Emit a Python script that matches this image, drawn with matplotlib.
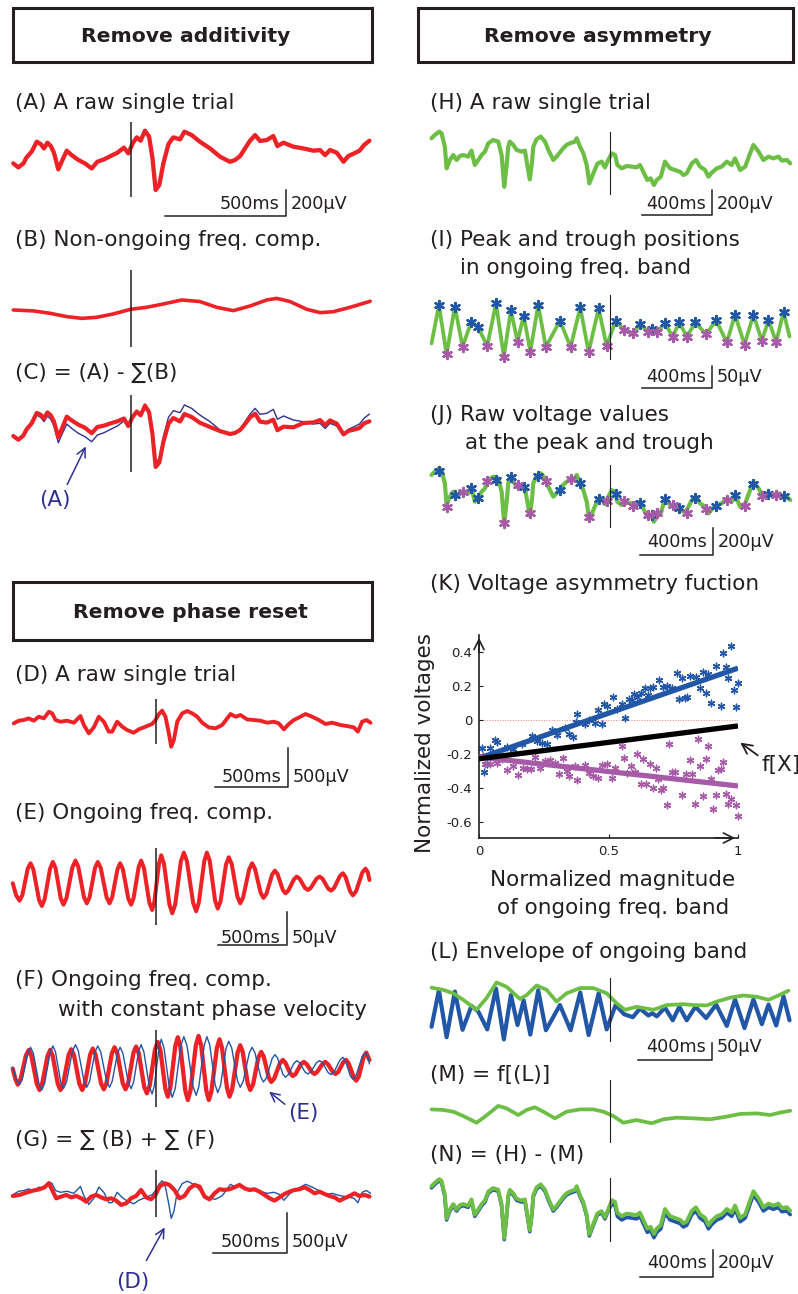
import matplotlib.pyplot as plt
from matplotlib.patches import Rectangle
import numpy as np

plt.rcParams['font.family'] = 'DejaVu Sans'
plt.rcParams['axes.unicode_minus'] = False

W, H = 798, 1294
RED = '#ec2227'
GREEN = '#6dbe45'
BLUE = '#2256a6'
NAVY = '#2e3192'
PURPLE = '#a65aa8'
INK = '#231f20'

# (A) raw single trial, ms / uV
t_a = [-485, -464, -443, -430, -409, -388, -372, -358, -344, -330,
       -317, -299, -282, -264, -244, -216, -189, -161, -138, -110,
       -83, -55, -28, -10, 8, 25, 41, 59, 76, 90,
       103, 118, 135, 156, 176, 204, 222, 252, 286, 328,
       369, 410, 431, 452, 472, 493, 514, 534, 562, 589,
       606, 631, 672, 713, 755, 782, 803, 823, 851, 879,
       899, 923, 945, 964, 986]
uv_a = [-50, -80, -50, -5, 38, 112, 95, 62, 105, 80,
        30, -95, -25, 45, 12, -25, -50, -88, -38, -20,
        5, 30, 68, 25, 100, 145, 120, 195, 150, -12,
        -250, -212, -50, 95, 145, 130, 188, 162, 112, 62,
        0, -38, -25, 5, 62, 120, 162, 118, 125, 155,
        80, 105, 75, 62, 45, 50, 12, 50, 30, -38,
        5, 25, 45, 88, 120]
# (C) = (A) - sum(B), same sample times as (A)
uv_c = [-45, -73, -41, 5, 50, 128, 115, 86, 132, 110,
        65, -55, 20, 100, 72, 40, 17, -24, 22, 33,
        50, 65, 86, 30, 98, 139, 110, 182, 133, -34,
        -277, -244, -90, 47, 90, 64, 120, 97, 54, 22,
        -8, -30, -22, 0, 44, 95, 122, 63, 55, 77,
        -2, 25, 20, 52, 57, 75, 36, 72, 48, -33,
        -7, 3, 15, 50, 65]
# (B) non-ongoing component
t_b = [-485, -402, -333, -264, -202, -140, -72, 0, 66, 135, 211, 286,
       355, 424, 493, 562, 603, 658, 727, 782, 837, 906, 989]
uv_b = [-5, -12, -30, -55, -68, -60, -35, 0, 15, 40, 70, 58,
        15, -10, 25, 70, 82, 58, 0, -25, -18, 15, 60]

# (D) raw single trial
t_d = [-965, -931, -897, -863, -829, -795, -760, -726, -704, -681,
       -647, -602, -556, -511, -488, -454, -420, -386, -352, -318,
       -295, -261, -227, -193, -148, -114, -68, -23, 0, 23,
       45, 68, 91, 107, 125, 148, 182, 216, 250, 284,
       318, 363, 409, 454, 511, 545, 579, 624, 670, 715,
       760, 806, 840, 874, 908, 942, 987, 1022, 1067, 1112,
       1158, 1203, 1260, 1305, 1351, 1378, 1407, 1437, 1464]
uv_d = [-22, 13, 22, 43, 13, 65, 43, 130, 109, 22,
        0, 13, -13, 74, -43, -152, -74, 65, 0, -130,
        -130, 0, -65, -109, -144, -100, -65, -30, 22, 100,
        144, 65, -152, -326, -239, 0, 109, 139, 109, 65,
        -13, -74, -87, -43, 100, 65, 87, 30, 22, 13,
        -13, 0, -22, -100, -30, 22, 65, 100, 65, 22,
        -30, -13, -43, -57, -74, -130, 0, 22, -13]
# (E) ongoing frequency component
t_e = [-972, -949, -926, -907, -870, -851, -832, -793, -774, -755,
       -718, -699, -681, -645, -627, -606, -566, -545, -526, -487,
       -468, -449, -412, -393, -373, -333, -313, -295, -259, -241,
       -222, -185, -166, -149, -115, -98, -79, -42, -23, -8,
       24, 39, 58, 95, 114, 134, 173, 193, 214, 256,
       277, 295, 332, 350, 369, 406, 424, 443, 480, 499,
       519, 558, 577, 597, 638, 658, 677, 716, 735, 755,
       794, 813, 831, 867, 885, 904, 943, 962, 981, 1018,
       1037, 1057, 1097, 1117, 1137, 1176, 1196, 1216, 1256, 1276,
       1293, 1327, 1344, 1366, 1408, 1430, 1445, 1457]
uv_e = [0, -18, -26, -18, 22, 30, 21, -25, -34, -24,
        22, 32, 23, -23, -32, -22, 24, 34, 25, -21,
        -30, -21, 23, 32, 23, -21, -30, -21, 21, 30,
        21, -23, -32, -22, 24, 34, 23, -29, -40, -28,
        30, 42, 29, -32, -45, -32, 33, 46, 33, -29,
        -42, -29, 33, 46, 34, -26, -38, -27, 28, 39,
        29, -20, -30, -21, 21, 30, 22, -14, -22, -16,
        13, 19, 14, -10, -15, -11, 6, 10, 7, -7,
        -10, -7, 7, 10, 7, -8, -11, -7, 11, 15,
        10, -13, -18, -12, 16, 22, 17, 5]
# (F) ongoing component with constant phase velocity
t_f = [-972, -955, -938, -919, -882, -863, -845, -808, -790, -772,
       -735, -717, -700, -665, -647, -629, -592, -574, -555, -518,
       -499, -481, -445, -427, -408, -371, -352, -334, -297, -279,
       -260, -223, -204, -186, -150, -132, -114, -77, -59, -40,
       -3, 16, 33, 67, 84, 101, 135, 152, 169, 203,
       220, 238, 275, 293, 311, 346, 363, 381, 418, 436,
       453, 487, 504, 522, 559, 577, 594, 628, 645, 664,
       701, 720, 737, 771, 788, 808, 847, 867, 884, 918,
       935, 954, 991, 1010, 1028, 1065, 1083, 1101, 1137, 1155,
       1173, 1208, 1226, 1244, 1280, 1298, 1315, 1350, 1367, 1384,
       1418, 1435, 1457]
uv_f = [-2, -17, -26, -18, 18, 26, 17, -25, -34, -25,
        17, 26, 17, -25, -34, -25, 18, 27, 18, -25,
        -34, -25, 19, 28, 19, -24, -33, -24, 21, 30,
        21, -24, -33, -24, 22, 31, 21, -29, -39, -28,
        27, 38, 26, -32, -44, -31, 32, 45, 31, -35,
        -49, -35, 33, 47, 33, -35, -49, -36, 29, 42,
        29, -31, -44, -33, 22, 33, 23, -24, -34, -26,
        15, 23, 16, -15, -22, -17, 6, 11, 7, -9,
        -13, -10, 5, 8, 5, -7, -10, -7, 5, 8,
        5, -7, -10, -7, 8, 11, 6, -15, -20, -14,
        16, 22, 11]
# (G) = sum(B) + sum(F)
t_g = [-972, -926, -881, -835, -790, -756, -726, -704, -676, -642,
       -608, -574, -540, -506, -472, -438, -404, -370, -336, -302,
       -268, -234, -200, -166, -132, -98, -64, -30, 0, 27,
       61, 95, 129, 163, 197, 232, 266, 300, 334, 368,
       402, 436, 470, 504, 538, 572, 606, 640, 674, 708,
       743, 777, 811, 845, 878, 913, 947, 981, 1015, 1049,
       1083, 1117, 1151, 1185, 1219, 1253, 1287, 1321, 1355, 1389,
       1423, 1457]
uv_g = [-46, -33, -4, 21, 38, 63, 113, 29, -75, -54,
        -33, -63, -46, -75, -117, -54, -33, -63, -88, -75,
        -104, -158, -138, -75, -46, 29, -63, -88, -33, 71,
        113, 92, 29, -75, -46, 50, 92, 71, -54, -88,
        -13, 38, 29, 38, 63, 92, 50, 29, 38, 8,
        -33, -75, -104, -63, -21, 8, 29, 38, 63, 29,
        -13, 8, -21, -46, -63, -104, -75, -46, -13, -46,
        -33, -54]

# (H) raw single trial, also (J) and blue in (N)
t_h = [-1019, -1000, -975, -962, -943, -933, -914, -895, -876, -857,
       -838, -810, -791, -772, -752, -733, -714, -695, -667, -638,
       -619, -604, -591, -581, -572, -552, -533, -505, -486, -458,
       -446, -438, -419, -396, -371, -352, -324, -305, -286, -267,
       -248, -229, -200, -190, -171, -152, -133, -118, -95, -72,
       -48, -29, -10, 10, 29, 42, 67, 95, 124, 152,
       171, 190, 213, 232, 251, 267, 290, 314, 343, 371,
       400, 419, 438, 467, 491, 514, 543, 562, 581, 610,
       638, 667, 695, 714, 743, 772, 800, 819, 848, 876,
       905, 933, 962, 981, 1010, 1029]
uv_h = [174, 200, 227, 214, 107, -67, 0, 40, 0, 32,
        40, 27, 75, -40, 0, 40, 67, 134, 160, 147,
        40, -214, -53, 107, 147, 120, 80, 67, 75, -155,
        -27, 107, 166, 187, 147, 80, 0, 27, 60, 94,
        120, 134, 147, 174, 107, 53, -40, -187, -107, -30,
        -13, -59, 0, 53, 40, -40, -67, -48, -53, -59,
        -40, -94, -160, -147, -200, -160, -134, -13, -67, -80,
        -94, -120, -107, -27, 0, -53, -80, -134, -101, -67,
        -53, -13, -40, 13, -80, -53, 53, 120, 67, 0,
        27, 13, 27, -5, 0, -27]
# (N) = (H) - (M)
uv_n = [186, 212, 239, 226, 119, -55, 12, 52, 12, 44,
        52, 39, 87, -28, 12, 52, 79, 146, 172, 159,
        52, -202, -41, 119, 159, 132, 92, 79, 87, -143,
        -15, 119, 178, 199, 159, 92, 12, 39, 72, 106,
        132, 146, 159, 186, 119, 65, -28, -175, -95, -18,
        -1, -47, 12, 81, 68, -12, -39, -20, -25, -31,
        -12, -66, -132, -119, -172, -132, -106, 15, -39, -52,
        -66, -92, -79, 1, 28, -25, -52, -106, -73, -39,
        -25, 15, -12, 41, -52, -25, 81, 148, 95, 28,
        55, 41, 55, 23, 28, 1]
# (I) ongoing band, also blue in (L)
t_i = [-1019, -977, -933, -886, -842, -791, -752, -701, -651, -606,
       -566, -528, -493, -455, -410, -366, -286, -225, -170, -122,
       -65, -19, 32, 80, 130, 171, 219, 242, 267, 314,
       358, 396, 438, 488, 549, 606, 667, 714, 768, 819,
       867, 905, 949, 991, 1025]
uv_i = [-31, 53, -55, 50, -38, 17, 4, -37, 57, -60,
        42, -27, 30, -49, 53, -39, 19, -39, 48, -50,
        46, -37, 19, -2, -9, 11, -5, 0, -7, 13,
        -16, 15, -16, 15, -11, 20, -29, 32, -34, 32,
        -25, 20, -28, 39, -16]
peaks_i = [1, 3, 5, 6, 8, 10, 12, 14, 16, 18, 20, 22, 25, 27, 29, 31, 33,
           35, 37, 39, 41, 43]
troughs_i = [2, 4, 7, 9, 11, 13, 15, 17, 19, 21, 23, 24, 26, 28, 30, 32,
             34, 36, 38, 40, 42]
# (J) raw voltage at those peaks / troughs
j_peak_uv = [208, 13, 72, -8, 134, 155, 80, 165, 55, 107, -20, 21, -50,
             -150, -21, -93, -10, -75, 11, 99, 20, 5]
j_trough_uv = [-85, 35, 125, -208, 93, -134, 125, 142, -160, -35, -35,
               -75, -147, -134, -67, -128, -101, -30, -75, 5, 10]
# (L) envelope
t_l = [-1019, -953, -895, -838, -762, -705, -648, -591, -514, -476,
       -419, -362, -305, -248, -171, -95, -19, 38, 86, 152,
       248, 324, 419, 476, 552, 610, 686, 762, 838, 905, 962, 1019]
uv_l = [59, 54, 46, 31, 8, 35, 71, 61, 33, 42,
        64, 54, 27, 46, 58, 58, 46, 23, 8, 15,
        8, 19, 21, 19, 18, 27, 36, 41, 38, 31, 41, 52]
# (M) = f[(L)]
t_m = [-1019, -953, -895, -838, -800, -762, -714, -638, -591, -524,
       -476, -429, -381, -314, -248, -171, -95, -38, 19, 76,
       152, 238, 305, 381, 476, 572, 667, 743, 838, 914, 972, 1029]
uv_m = [42, 38, 25, -8, -32, -58, -12, 68, 50, 0,
        38, 58, 25, -25, 25, 42, 42, 25, -8, -58,
        -38, -62, -32, -20, -25, -32, -12, 8, 12, 0, 18, 32]

# (K) normalized magnitude vs normalized voltage
kx_peak = [.010, .019, .032, .042, .062, .071, .109, .130, .165, .203,
           .223, .242, .261, .281, .302, .332, .349, .364, .380, .375,
           .409, .426, .448, .461, .473, .484, .493, .516, .532, .553,
           .564, .580, .589, .598, .609, .624, .641, .651, .660, .671,
           .695, .709, .725, .744, .763, .773, .785, .795, .804, .815,
           .838, .853, .866, .876, .885, .894, .914, .933, .943, .954,
           .963, .973, .986, .992, 1.0]
ky_peak = [-.163, -.304, -.261, -.163, -.120, -.129, -.157, -.173, -.143, -.094,
           -.124, -.133, -.139, -.059, -.088, -.045, -.084, -.100, .033, -.010,
           -.025, -.002, -.016, .059, -.025, .096, .082, .135, .063, .096,
           .010, .122, .116, .151, .135, .159, .190, .147, .186, .194,
           .233, .194, .200, .190, .278, .125, .245, .131, .135, .259,
           .253, .190, .284, .161, .273, .102, .318, .082, .396, .312,
           .249, .435, .175, .076, .216]
kx_trough = [.014, .023, .042, .068, .088, .109, .130, .152, .169, .184,
             .199, .216, .234, .255, .274, .293, .310, .323, .341, .349,
             .371, .380, .409, .426, .441, .461, .473, .495, .512, .527,
             .551, .560, .570, .586, .602, .611, .624, .634, .644, .660,
             .671, .683, .692, .701, .712, .724, .734, .745, .758, .784,
             .799, .815, .824, .835, .845, .853, .866, .875, .884, .896,
             .905, .915, .924, .933, .943, .954, .963, .973, .992, 1.0]
ky_trough = [-.212, -.261, -.257, -.251, -.231, -.296, -.271, -.324, -.280, -.290,
             -.290, -.218, -.280, -.241, -.237, -.251, -.320, -.225, -.300, -.329,
             -.271, -.353, -.265, -.310, -.329, -.343, -.265, -.257, -.339, -.284,
             -.153, -.225, -.310, -.271, -.304, -.198, -.378, -.231, -.378, -.261,
             -.402, -.284, -.349, -.414, -.398, -.500, -.143, -.304, -.304, -.443,
             -.316, -.237, -.316, -.492, -.114, -.271, -.447, -.231, -.153, -.349,
             -.525, -.441, -.296, -.290, -.247, -.433, -.496, -.467, -.500, -.565]
# fitted lines: (intercept, slope)
fit_peak = (-0.225, 0.53)
fit_mid = (-0.228, 0.193)
fit_trough = (-0.218, -0.17)

fig = plt.figure(figsize=(W / 100, H / 100), dpi=100)


def panel(x0, x1, y_top, y_bot, x_stim, ms_px, y_zero, uv_px, stim_lw=1.1):
    # axes box in pixels; the stimulus line spans the full box height
    ax = fig.add_axes([x0 / W, 1 - y_bot / H, (x1 - x0) / W, (y_bot - y_top) / H])
    ax.set_xlim((x0 - x_stim) * ms_px, (x1 - x_stim) * ms_px)
    ax.set_ylim((y_zero - y_bot) * uv_px, (y_zero - y_top) * uv_px)
    ax.axis('off')
    ax.axvline(0, color=INK, lw=stim_lw, zorder=5)
    return ax


def trace(ax, t, v, color, lw, z=2):
    ax.plot(t, v, color=color, lw=lw, solid_joinstyle='round',
            solid_capstyle='round', clip_on=False, zorder=z)


# left column
ax = panel(5, 380, 121.7, 196.7, 130.7, 4.13, 156.7, 7.5)
trace(ax, t_a, uv_a, RED, 3.1)
ax = panel(5, 380, 270, 347, 130.7, 4.13, 309.3, 7.5)
trace(ax, t_b, uv_b, RED, 2.6)
ax = panel(5, 380, 395, 472, 130.7, 4.13, 430, 7.5)
trace(ax, t_a, uv_a, NAVY, 1.0, z=1)
trace(ax, t_a, uv_c, RED, 3.0, z=2)
ax = panel(5, 380, 699.3, 744.3, 155.5, 6.81, 721.7, 13.05)
trace(ax, t_d, uv_d, RED, 2.8)
ax = panel(5, 380, 848.3, 925, 155.5, 6.81, 883.3, 1.5)
trace(ax, t_e, uv_e, RED, 2.9)
ax = panel(5, 380, 1030, 1106.7, 155.5, 6.81, 1067.3, 1.5)
trace(ax, t_f, uv_f, RED, 3.1, z=1)
trace(ax, t_e, uv_e, BLUE, 1.0, z=2)
ax = panel(5, 380, 1170, 1216.7, 155.5, 6.81, 1192.3, 12.5)
trace(ax, t_d, uv_d, BLUE, 1.0, z=1)
trace(ax, t_g, uv_g, RED, 3.0, z=2)

# right column
ax = panel(425, 798, 131.7, 195, 610, 5.71, 160, 8, 0.8)
trace(ax, t_h, uv_h, GREEN, 3.0)
ax = panel(425, 798, 295, 360, 610, 5.71, 329.3, 2.2, 0.8)
trace(ax, t_i, uv_i, GREEN, 2.7)
ti = np.array(t_i)
vi = np.array(uv_i)
ax.scatter(ti[peaks_i], vi[peaks_i], marker=(6, 2, 0), s=42, color=BLUE,
           linewidths=1.7, zorder=4, clip_on=False)
ax.scatter(ti[troughs_i], vi[troughs_i], marker=(6, 2, 0), s=42, color=PURPLE,
           linewidths=1.7, zorder=4, clip_on=False)
ax = panel(425, 798, 465, 528, 610, 5.71, 496.7, 8, 0.8)
trace(ax, t_h, uv_h, GREEN, 3.0)
ax.scatter(ti[peaks_i], j_peak_uv, marker=(6, 2, 0), s=42, color=BLUE,
           linewidths=1.7, zorder=4, clip_on=False)
ax.scatter(ti[troughs_i], j_trough_uv, marker=(6, 2, 0), s=42, color=PURPLE,
           linewidths=1.7, zorder=4, clip_on=False)
ax = panel(425, 798, 978, 1042, 610, 5.71, 1013.3, 2.3, 0.8)
trace(ax, t_i, uv_i, BLUE, 3.0, z=1)
trace(ax, t_l, uv_l, GREEN, 2.7, z=2)
ax = panel(425, 798, 1080, 1143.3, 610, 5.71, 1115, 7.5, 0.8)
trace(ax, t_m, uv_m, GREEN, 2.7)
ax = panel(425, 798, 1178, 1242, 610, 5.71, 1211, 7.5, 0.8)
trace(ax, t_h, uv_h, BLUE, 2.6, z=1)
trace(ax, t_h, uv_n, GREEN, 2.8, z=2)

# (K) scatter panel
axk = fig.add_axes([479 / W, 1 - 838 / H, (738 - 479) / W, (838 - 635) / H])
axk.set_xlim(0, 1)
axk.set_ylim(-0.694, 0.5)
for s in ['top', 'right']:
    axk.spines[s].set_visible(False)
for s in ['left', 'bottom']:
    axk.spines[s].set_linewidth(1.2)
    axk.spines[s].set_color(INK)
axk.set_xticks([0, 0.5, 1])
axk.set_xticklabels(['0', '0.5', '1'])
axk.set_yticks([-0.6, -0.4, -0.2, 0, 0.2, 0.4])
axk.set_yticklabels(['-0.6', '-0.4', '-0.2', '0', '0.2', '0.4'])
axk.tick_params(direction='in', length=3, labelsize=9.5, colors=INK, pad=5)
axk.axhline(0, color='#f08080', ls=':', lw=0.7, zorder=1)
axk.scatter(kx_peak, ky_peak, marker=(6, 2, 0), s=22, color=BLUE,
            linewidths=1.0, zorder=2, clip_on=False)
axk.scatter(kx_trough, ky_trough, marker=(6, 2, 0), s=22, color=PURPLE,
            linewidths=1.0, zorder=2, clip_on=False)
xf = np.array([0.0, 1.0])
axk.plot(xf, fit_peak[0] + fit_peak[1] * xf, color=BLUE, lw=3.8,
         solid_capstyle='butt', zorder=3)
axk.plot(xf, fit_trough[0] + fit_trough[1] * xf, color=PURPLE, lw=3.8,
         solid_capstyle='butt', zorder=3)
axk.plot(xf, fit_mid[0] + fit_mid[1] * xf, color='black', lw=3.8,
         solid_capstyle='butt', zorder=4)
axk.annotate('', xy=(0, 1.0), xytext=(0, 0.9), xycoords='axes fraction',
             arrowprops=dict(arrowstyle='->', lw=1.2, color=INK, mutation_scale=18))
axk.annotate('', xy=(1.0, 0), xytext=(0.9, 0), xycoords='axes fraction',
             arrowprops=dict(arrowstyle='->', lw=1.2, color=INK, mutation_scale=18))

# overlay in pixel coordinates for boxes, titles, scale bars and arrows
ov = fig.add_axes([0, 0, 1, 1], zorder=10)
ov.set_xlim(0, W)
ov.set_ylim(H, 0)
ov.axis('off')
ov.patch.set_alpha(0)

for (bx, by, bw, bh, title, cx) in [(13, 8, 359, 54, 'Remove additivity', 186),
                                    (13, 582, 359, 58, 'Remove phase reset', 190),
                                    (418, 8, 375, 54, 'Remove asymmetry', 598)]:
    ov.add_patch(Rectangle((bx, by), bw, bh, fill=False, lw=2.2, ec=INK))
    ov.text(cx, by + bh / 2 + 2, title, ha='center', va='center',
            fontsize=14.7, fontweight='bold', color=INK)

labels = [(15, 103, '(A) A raw single trial'),
          (15, 240, '(B) Non-ongoing freq. comp.'),
          (15, 373, '(C) = (A) - \u2211(B)'),
          (15, 675, '(D) A raw single trial'),
          (15, 813, '(E) Ongoing freq. comp.'),
          (15, 980, '(F) Ongoing freq. comp.'),
          (58, 1010, 'with constant phase velocity'),
          (15, 1140, '(G) = \u2211 (B) + \u2211 (F)'),
          (430, 103, '(H) A raw single trial'),
          (430, 240, '(I) Peak and trough positions'),
          (460, 268, 'in ongoing freq. band'),
          (430, 415, '(J) Raw voltage values'),
          (465, 443, 'at the peak and trough'),
          (430, 584, '(K) Voltage asymmetry fuction'),
          (430, 952, '(L) Envelope of ongoing band'),
          (430, 1075, '(M) = f[(L)]'),
          (430, 1155, '(N) = (H) - (M)')]
for x, y, s in labels:
    ov.text(x, y, s, ha='left', va='center', fontsize=15.5, color=INK)

# scale bars: (x_left, x_right, y_bar, y_top, time text, voltage text, text y)
bars = [(165, 286, 216, 190, '500ms', '200\u00b5V', 204),
        (215, 288, 787, 748, '500ms', '500\u00b5V', 777),
        (218, 287, 945, 912, '500ms', '50\u00b5V', 938),
        (213, 287, 1253, 1213, '500ms', '500\u00b5V', 1242),
        (642, 712, 215, 190, '400ms', '200\u00b5V', 204),
        (642, 712, 388, 366, '400ms', '50\u00b5V', 377),
        (640, 713, 555, 528, '400ms', '200\u00b5V', 542),
        (638, 712, 1060, 1043, '400ms', '50\u00b5V', 1047),
        (640, 713, 1277, 1250, '400ms', '200\u00b5V', 1263)]
for x0, x1, yb, yt, tt, vt, ty in bars:
    ov.plot([x0, x1, x1], [yb, yb, yt], color=INK, lw=1.1)
    ov.text(x1 - 36, ty, tt, ha='center', va='center', fontsize=12.7, color=INK)
    ov.text(x1 + 5, ty, vt, ha='left', va='center', fontsize=12.7, color=INK)

# annotation arrows
for (tx, ty, hx, hy, lx, ly, s, col) in [(66, 487, 87, 444, 55, 500, '(A)', NAVY),
                                         (287, 1106, 267, 1090, 303, 1113, '(E)', NAVY),
                                         (145, 1263, 166, 1225, 133, 1282, '(D)', NAVY)]:
    ov.annotate('', xy=(hx, hy), xytext=(tx, ty),
                arrowprops=dict(arrowstyle='->', color=col, lw=1.1, mutation_scale=16))
    ov.text(lx, ly, s, ha='center', va='center', fontsize=15.5, color=col)

ov.annotate('', xy=(738, 741), xytext=(760, 757),
            arrowprops=dict(arrowstyle='->', color=INK, lw=1.3, mutation_scale=18))
ov.text(761, 765, 'f[X]', ha='left', va='center', fontsize=15.5, color=INK)

# axis titles of (K)
ov.text(425, 743, 'Normalized voltages', rotation=90, ha='center', va='center',
        fontsize=15.5, color=INK)
ov.text(613, 880, 'Normalized magnitude', ha='center', va='center',
        fontsize=15.5, color=INK)
ov.text(613, 908, 'of ongoing freq. band', ha='center', va='center',
        fontsize=15.5, color=INK)

fig.savefig('out.png', dpi=100)
